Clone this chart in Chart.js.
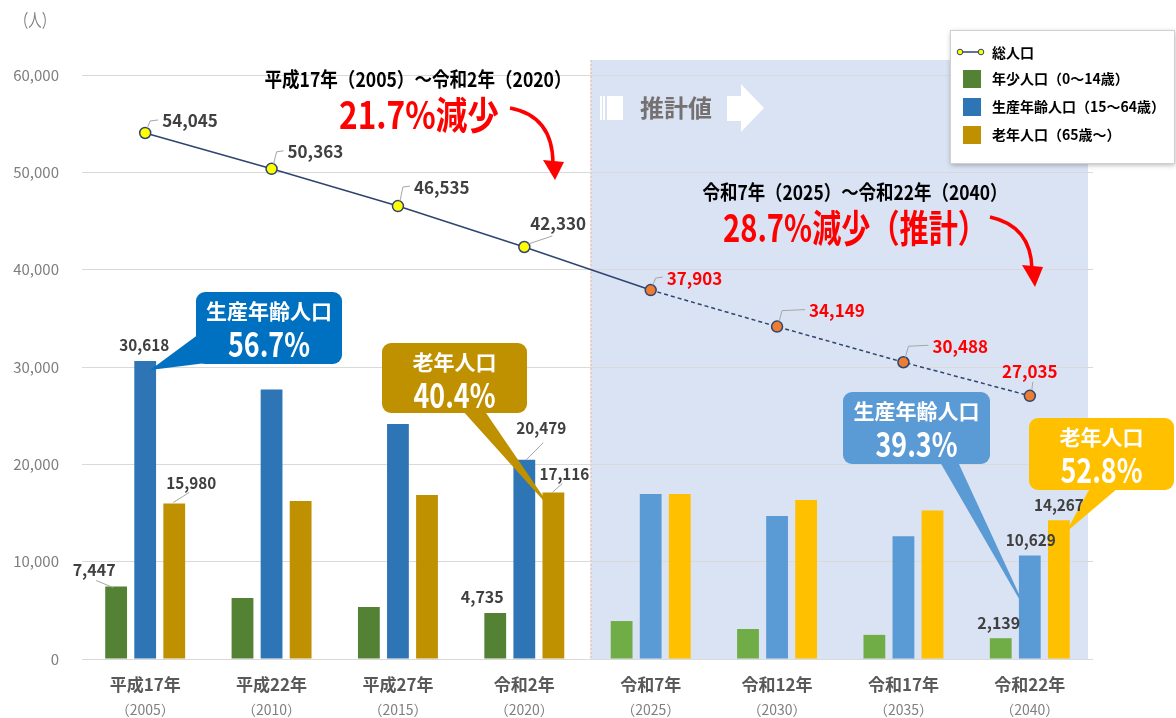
<!DOCTYPE html>
<html lang="ja">
<head>
<meta charset="utf-8">
<title>人口の推移と推計</title>
<script src="https://cdn.jsdelivr.net/npm/chart.js@4.4.1/dist/chart.umd.min.js"></script>
<style>
  html, body { margin: 0; padding: 0; background: #fff; }
  #wrap { width: 1176px; height: 718px; }
</style>
</head>
<body>
<div id="wrap"><canvas id="popChart" width="1176" height="718"></canvas></div>
<script>
// data
const categories = ['平成17年', '平成22年', '平成27年', '令和2年', '令和7年', '令和12年', '令和17年', '令和22年'];
const years = ['2005', '2010', '2015', '2020', '2025', '2030', '2035', '2040'];
const totalPop = [54045, 50363, 46535, 42330, 37903, 34149, 30488, 27035];
const youngPop = [7447, 6270, 5340, 4735, 3900, 3080, 2480, 2139];
const workingPop = [30618, 27700, 24150, 20479, 16960, 14700, 12600, 10629];
const elderlyPop = [15980, 16240, 16850, 17116, 16960, 16340, 15250, 14267];
const seriesNames = ['総人口', '年少人口（0～14歳）', '生産年齢人口（15～64歳）', '老年人口（65歳～）'];
const yMax = 60000;
const yStep = 10000;
const firstProjected = 4; // 令和7年から推計値

const JP = "'Noto Sans CJK JP', 'Noto Sans', sans-serif";
const fmt = v => v.toLocaleString('en-US');

// colours: actual / projected
const greenA = '#548235', greenP = '#70AD47';
const blueA = '#2E75B6', blueP = '#5B9BD5';
const goldA = '#BF9000', goldP = '#FFC000';
const navy = '#2F4470';
const split = (a, b) => categories.map((_, i) => i < firstProjected ? a : b);

function txt(ctx, s, x, y, size, color, o = {}) {
    ctx.save();
    ctx.font = `${o.weight || 'normal'} ${size}px ${JP}`;
    ctx.fillStyle = color;
    ctx.textAlign = o.align || 'center';
    ctx.textBaseline = 'middle';
    if (o.maxW) ctx.fillText(s, x, y, o.maxW); else ctx.fillText(s, x, y);
    ctx.restore();
}

function polyline(ctx, pts, color, w) {
    ctx.save();
    ctx.strokeStyle = color;
    ctx.lineWidth = w;
    ctx.beginPath();
    pts.forEach((p, i) => i ? ctx.lineTo(p[0], p[1]) : ctx.moveTo(p[0], p[1]));
    ctx.stroke();
    ctx.restore();
}

function callout(ctx, c, tip) {
    ctx.save();
    ctx.fillStyle = c.color;
    ctx.beginPath();
    ctx.roundRect(c.x, c.y, c.w, c.h, 9);
    ctx.fill();
    ctx.beginPath();
    ctx.moveTo(c.base[0][0], c.base[0][1]);
    ctx.lineTo(tip[0], tip[1]);
    ctx.lineTo(c.base[1][0], c.base[1][1]);
    ctx.closePath();
    ctx.fill();
    ctx.restore();
    txt(ctx, c.title, c.x + c.w / 2, c.y + 19, 21, '#ffffff', { weight: 'bold', maxW: 132 });
    txt(ctx, c.pct, c.x + c.w / 2, c.y + 52, 34, '#ffffff', { weight: 'bold', maxW: 82 });
}

function redArrow(ctx, s, cp, e, tip) {
    ctx.save();
    ctx.strokeStyle = '#FF0000';
    ctx.fillStyle = '#FF0000';
    ctx.lineWidth = 3.5;
    ctx.beginPath();
    ctx.moveTo(s[0], s[1]);
    ctx.quadraticCurveTo(cp[0], cp[1], e[0], e[1]);
    ctx.stroke();
    ctx.beginPath();
    ctx.moveTo(e[0] - 10, e[1] - 4);
    ctx.lineTo(e[0] + 11, e[1] - 2);
    ctx.lineTo(tip[0], tip[1]);
    ctx.closePath();
    ctx.fill();
    ctx.restore();
}

// background shade for projected years
const shadePlugin = {
    id: 'shade',
    beforeDraw(chart) {
        const { ctx, chartArea, scales } = chart;
        const left = (scales.x.getPixelForValue(firstProjected - 1) + scales.x.getPixelForValue(firstProjected)) / 2 + 3;
        ctx.save();
        ctx.fillStyle = '#ffffff';
        ctx.fillRect(0, 0, chart.width, chart.height);
        ctx.fillStyle = '#DAE3F3';
        ctx.fillRect(left, 60, chartArea.right - 5 - left, chartArea.bottom - 60);
        ctx.strokeStyle = '#F4B183';
        ctx.setLineDash([2, 2]);
        ctx.lineWidth = 1;
        ctx.beginPath();
        ctx.moveTo(left + 0.5, 60);
        ctx.lineTo(left + 0.5, chartArea.bottom);
        ctx.stroke();
        ctx.restore();
    }
};

const labelPlugin = {
    id: 'labels',
    afterDraw(chart) {
        const { ctx, scales } = chart;
        const gray = '#404040';
        const lead = '#A6A6A6';

        // y unit
        txt(ctx, '（人）', 35, 20, 18, '#7F7F7F', { maxW: 40 });

        // x labels
        categories.forEach((c, i) => {
            const x = scales.x.getPixelForValue(i);
            txt(ctx, c, x, 685, 17, '#595959', { weight: 'bold' });
            txt(ctx, '（' + years[i] + '）', x, 710, 14, '#7F7F7F', { maxW: 62 });
        });

        // total population labels
        const pts = chart.getDatasetMeta(0).data;
        const lineLab = [[17, -12], [16, -17], [16, -19], [6, -23], [16, -12], [32, -16], [29, -16], [0, -24]];
        pts.forEach((p, i) => {
            const [dx, dy] = lineLab[i];
            const color = i < firstProjected ? gray : '#FF0000';
            if (i === pts.length - 1) {
                polyline(ctx, [[p.x + 2, p.y - 6], [p.x + 3, p.y - 14]], lead, 1);
                txt(ctx, fmt(totalPop[i]), p.x + dx, p.y + dy, 17, color, { weight: 'bold', maxW: 58 });
            } else if (i === 3) {
                polyline(ctx, [[p.x + 4, p.y - 3], [p.x + 28, p.y - 11]], lead, 1);
                txt(ctx, fmt(totalPop[i]), p.x + dx, p.y + dy, 17, color, { weight: 'bold', align: 'left', maxW: 58 });
            } else {
                polyline(ctx, [[p.x + 2, p.y - 5], [p.x + 5, p.y + dy], [p.x + dx - 4, p.y + dy - 1]], lead, 1);
                txt(ctx, fmt(totalPop[i]), p.x + dx, p.y + dy, 17, color, { weight: 'bold', align: 'left', maxW: 58 });
            }
        });

        // period headings
        txt(ctx, '平成17年（2005）～令和2年（2020）', 418, 79, 20, '#000000', { weight: 'bold', maxW: 307 });
        txt(ctx, '21.7%減少', 419, 115, 38, '#FF0000', { weight: 'bold', maxW: 160 });
        redArrow(ctx, [510, 108], [553, 116], [553, 164], [555, 180]);
        txt(ctx, '令和7年（2025）～令和22年（2040）', 855, 192, 20, '#000000', { weight: 'bold', maxW: 305 });
        txt(ctx, '28.7%減少（推計）', 855, 228, 38, '#FF0000', { weight: 'bold', maxW: 264 });
        redArrow(ctx, [990, 217], [1031, 226], [1032, 269], [1035, 287]);

        // 推計値 marker
        ctx.save();
        ctx.fillStyle = '#ffffff';
        ctx.fillRect(600, 96, 2, 24);
        ctx.fillRect(603, 96, 2, 24);
        ctx.fillRect(607, 96, 16, 24);
        ctx.beginPath();
        ctx.moveTo(727, 96); ctx.lineTo(741, 96); ctx.lineTo(741, 84); ctx.lineTo(764, 108);
        ctx.lineTo(741, 132); ctx.lineTo(741, 121); ctx.lineTo(727, 121);
        ctx.closePath();
        ctx.fill();
        ctx.restore();
        txt(ctx, '推計値', 676, 108, 24, '#767171', { weight: 'bold', maxW: 75 });

        // callouts
        const calls = [
            { ds: 2, i: 0, tdx: 5, tdy: 9, color: '#0070C0', x: 196, y: 292, w: 146, h: 72,
              base: [[199, 334], [214, 362]], title: '生産年齢人口', pct: '56.7%' },
            { ds: 3, i: 3, tdx: 0, tdy: 19, color: '#BF9000', x: 382, y: 343, w: 145, h: 70,
              base: [[462, 410], [484, 410]], title: '老年人口', pct: '40.4%' },
            { ds: 2, i: 7, tdx: 0, tdy: 62, color: '#5B9BD5', x: 843, y: 392, w: 147, h: 72,
              base: [[940, 462], [958, 462]], title: '生産年齢人口', pct: '39.3%' },
            { ds: 3, i: 7, tdx: 7, tdy: 12, color: '#FFC000', x: 1029, y: 418, w: 145, h: 72,
              base: [[1090, 488], [1118, 488]], title: '老年人口', pct: '52.8%' }
        ];
        calls.forEach(c => {
            const el = chart.getDatasetMeta(c.ds).data[c.i];
            callout(ctx, c, [el.x + c.tdx, el.y + c.tdy]);
        });

        // bar labels: dataset, index, label offset, leader
        const barLab = [
            { ds: 1, i: 0, dx: -22, dy: -17, lead: [[-3, 1], [-20, -6]] },
            { ds: 2, i: 0, dx: -1, dy: -16 },
            { ds: 3, i: 0, dx: 17, dy: -21, lead: [[-1, -1], [15, -11]] },
            { ds: 1, i: 3, dx: -13, dy: -16 },
            { ds: 2, i: 3, dx: 17, dy: -32, lead: [[2, 0], [19, -17]] },
            { ds: 3, i: 3, dx: 11, dy: -18, lead: [[-1, 0], [9, -9]] },
            { ds: 1, i: 7, dx: -2, dy: -15 },
            { ds: 2, i: 7, dx: 1, dy: -16 },
            { ds: 3, i: 7, dx: 0, dy: -15 }
        ];
        barLab.forEach(b => {
            const el = chart.getDatasetMeta(b.ds).data[b.i];
            const v = chart.data.datasets[b.ds].data[b.i];
            if (b.lead) polyline(ctx, b.lead.map(q => [el.x + q[0], el.y + q[1]]), lead, 1);
            txt(ctx, fmt(v), el.x + b.dx, el.y + b.dy, 16, gray, { weight: 'bold', maxW: 50 });
        });

        // legend
        ctx.save();
        ctx.shadowColor = 'rgba(0,0,0,0.3)';
        ctx.shadowBlur = 5;
        ctx.shadowOffsetX = 1;
        ctx.shadowOffsetY = 2;
        ctx.fillStyle = '#ffffff';
        ctx.fillRect(950, 30, 224, 133);
        ctx.restore();
        ctx.save();
        ctx.strokeStyle = '#D0D0D0';
        ctx.strokeRect(950.5, 30.5, 224, 133);
        polyline(ctx, [[960, 52], [981, 52]], navy, 1.5);
        [960, 981].forEach(cx => {
            ctx.beginPath();
            ctx.arc(cx, 52, 2.8, 0, Math.PI * 2);
            ctx.fillStyle = '#FFFF00';
            ctx.fill();
            ctx.strokeStyle = navy;
            ctx.lineWidth = 1;
            ctx.stroke();
        });
        const sw = [greenA, blueA, goldA];
        const rows = [53, 79, 107, 135];
        sw.forEach((c, k) => {
            ctx.fillStyle = c;
            ctx.fillRect(963, rows[k + 1] - 9, 18, 18);
        });
        ctx.restore();
        seriesNames.forEach((n, k) => {
            txt(ctx, n, 992, rows[k], 14, '#000000', { weight: 'bold', align: 'left' });
        });
    }
};

const ctx = document.getElementById('popChart').getContext('2d');
new Chart(ctx, {
    type: 'bar',
    data: {
        labels: categories,
        datasets: [
            {
                type: 'line',
                label: seriesNames[0],
                data: totalPop,
                order: 0,
                borderColor: navy,
                borderWidth: 1.5,
                pointRadius: 5.5,
                pointBorderWidth: 1.5,
                pointBackgroundColor: split('#FFFF00', '#ED7D31'),
                pointBorderColor: navy,
                segment: {
                    borderDash: c => c.p0DataIndex >= firstProjected ? [4, 3] : undefined
                }
            },
            { label: seriesNames[1], data: youngPop, order: 1, backgroundColor: split(greenA, greenP) },
            { label: seriesNames[2], data: workingPop, order: 1, backgroundColor: split(blueA, blueP) },
            { label: seriesNames[3], data: elderlyPop, order: 1, backgroundColor: split(goldA, goldP) }
        ]
    },
    options: {
        responsive: false,
        animation: false,
        categoryPercentage: 0.69,
        barPercentage: 0.75,
        layout: { padding: { top: 75, right: 83, left: 0, bottom: 0 } },
        plugins: {
            legend: { display: false },
            tooltip: { enabled: false }
        },
        scales: {
            x: {
                grid: { display: false },
                border: { display: false },
                ticks: { display: false },
                afterFit: s => { s.height = 59; }
            },
            y: {
                min: 0,
                max: yMax,
                border: { display: false },
                grid: { color: '#D9D9D9', drawTicks: false },
                ticks: {
                    stepSize: yStep,
                    padding: 23,
                    color: '#7F7F7F',
                    font: { family: JP, size: 15 },
                    callback: v => fmt(v)
                },
                afterFit: s => { s.width = 82; }
            }
        }
    },
    plugins: [shadePlugin, labelPlugin]
});
</script>
</body>
</html>
